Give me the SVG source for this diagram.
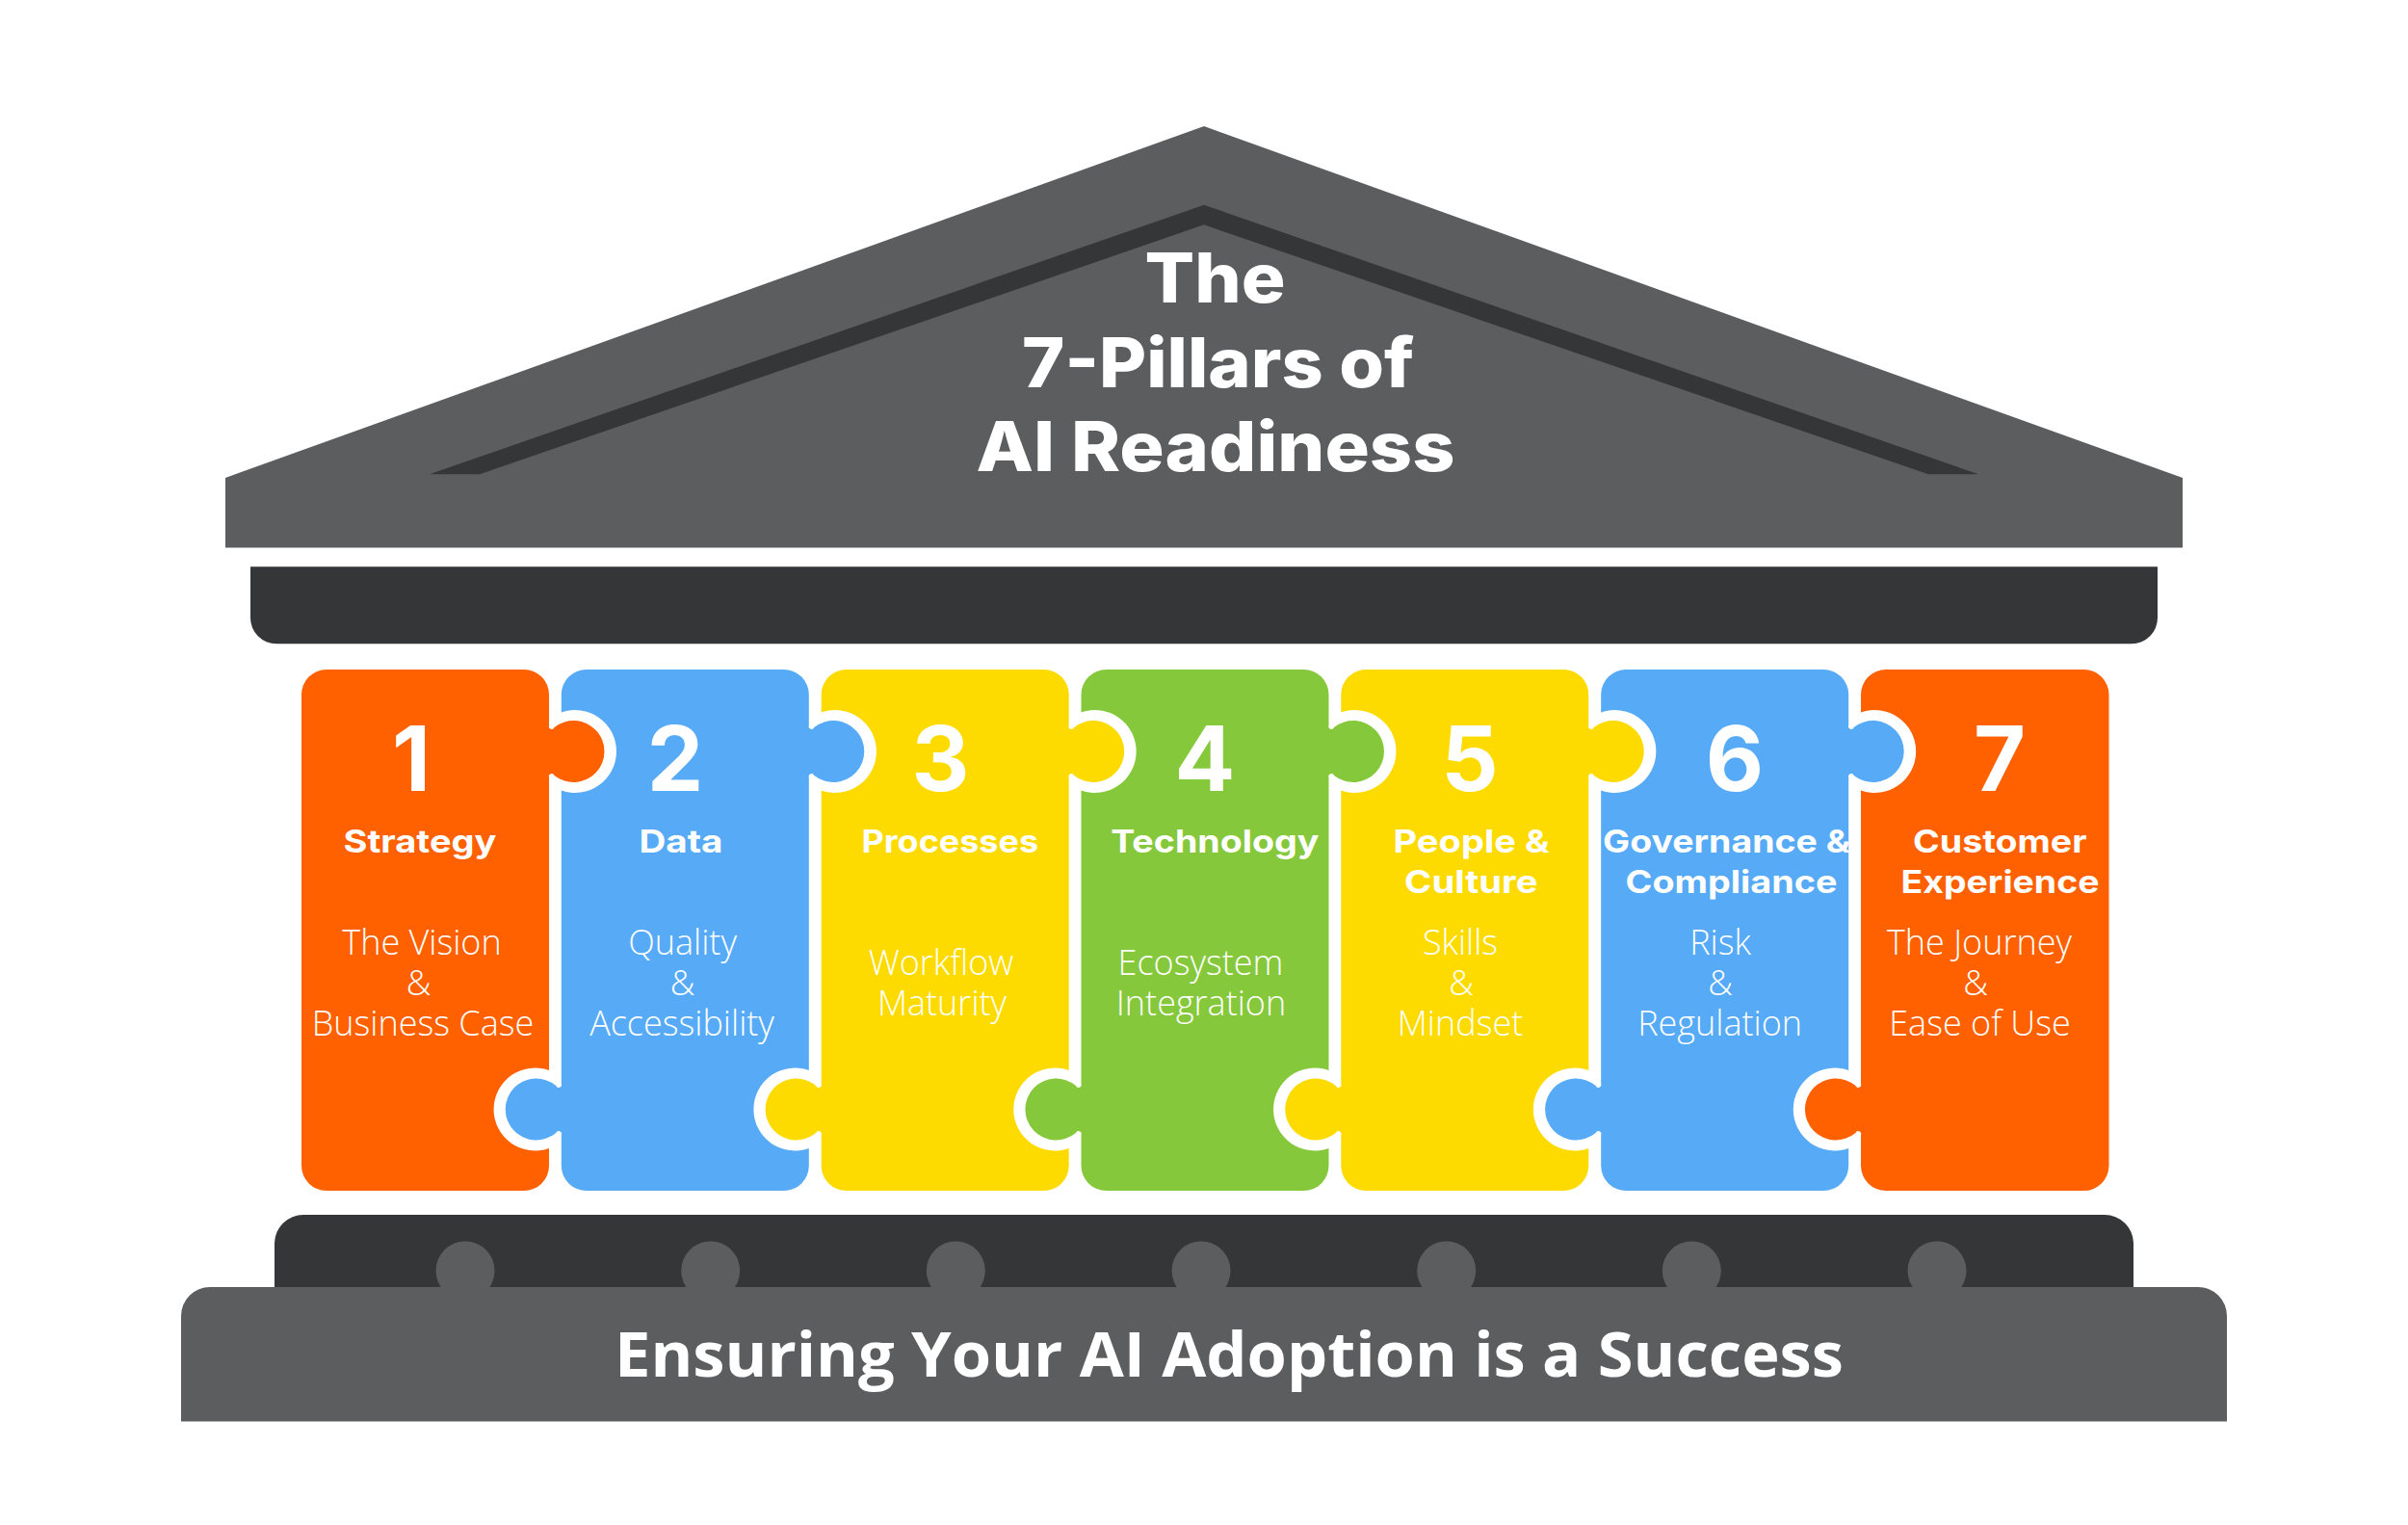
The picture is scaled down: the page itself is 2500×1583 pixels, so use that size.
<svg xmlns="http://www.w3.org/2000/svg" width="2500" height="1583" viewBox="0 0 2500 1583">
<style>
.dark{fill:#353638}.grey{fill:#5c5d5f}
.orange{fill:#ff6000}.blue{fill:#56aaf6}.yellow{fill:#fddb00}.green{fill:#86c83b}
text{fill:#fff}
.title{font:800 71px Inter,"Liberation Sans",sans-serif}
.base{font:700 64px "Open Sans","Liberation Sans",sans-serif}
.num{font:700 93px Inter,"Liberation Sans",sans-serif;text-anchor:middle}
.head{font:700 33px Inter,"Liberation Sans",sans-serif}
.body{font:300 36px "Open Sans","Liberation Sans",sans-serif;text-anchor:middle}
</style>
<defs>
<path id="piece-first" d="M26,695H231A26,26 0 0 1 257,721V753A2.8,2.8 0 0 0 262.5,755A32,32 0 1 1 262.5,805A2.8,2.8 0 0 0 257,807V1111A43,43 0 1 0 257,1192V1210A26,26 0 0 1 231,1236H26A26,26 0 0 1 0,1210V721A26,26 0 0 1 26,695Z"/>
<path id="piece-mid" d="M26,695H231A26,26 0 0 1 257,721V753A2.8,2.8 0 0 0 262.5,755A32,32 0 1 1 262.5,805A2.8,2.8 0 0 0 257,807V1111A43,43 0 1 0 257,1192V1210A26,26 0 0 1 231,1236H26A26,26 0 0 1 0,1210V1178A2.8,2.8 0 0 0 -5.5,1176A32,32 0 1 1 -5.5,1127A2.8,2.8 0 0 0 0,1125V820.6A43,43 0 1 0 0,739.4V721A26,26 0 0 1 26,695Z"/>
<path id="piece-last" d="M26,695H231A26,26 0 0 1 257.5,721V1210A26,26 0 0 1 231,1236H26A26,26 0 0 1 0,1210V1178A2.8,2.8 0 0 0 -5.5,1176A32,32 0 1 1 -5.5,1127A2.8,2.8 0 0 0 0,1125V820.6A43,43 0 1 0 0,739.4V721A26,26 0 0 1 26,695Z"/>
</defs>
<rect width="2500" height="1583" fill="#fff"/>
<g id="roof">
<polygon class="grey" points="234,568.5 234,496 1250,131 2266,496 2266,568.5"/>
<polygon class="dark" points="446,492.3 1250,212.7 2054,492.3 2002,492.3 1250,233.3 498,492.3"/>
<text class="title" x="1188.5" y="313.5" textLength="146" lengthAdjust="spacingAndGlyphs">The</text>
<text class="title" x="1061" y="401.7" textLength="407" lengthAdjust="spacingAndGlyphs">7-Pillars of</text>
<text class="title" x="1013.5" y="489" textLength="497" lengthAdjust="spacingAndGlyphs">AI Readiness</text>
</g>
<g id="entablature"><path class="dark" d="M260,588.3H2240V641A27,27 0 0 1 2213,668.3H287A27,27 0 0 1 260,641Z"/></g>
<g id="pillar-1">
<use href="#piece-first" x="313" class="orange"/>
<text class="num" x="427" y="821">1</text>
<text class="head" x="356.5" y="885" textLength="159" lengthAdjust="spacingAndGlyphs">Strategy</text>
<text class="body" x="438" y="990.7">The Vision</text><text class="body" x="434.5" y="1032.7">&amp;</text><text class="body" x="439" y="1074.7">Business Case</text>
</g>
<g id="pillar-2">
<use href="#piece-mid" x="582.8" class="blue"/>
<text class="num" x="701" y="821">2</text>
<text class="head" x="663.5" y="885" textLength="87" lengthAdjust="spacingAndGlyphs">Data</text>
<text class="body" x="708.6" y="990.7">Quality</text><text class="body" x="708.6" y="1032.7">&amp;</text><text class="body" x="708" y="1074.7">Accessibility</text>
</g>
<g id="pillar-3">
<use href="#piece-mid" x="852.7" class="yellow"/>
<text class="num" x="976.5" y="821">3</text>
<text class="head" x="894.5" y="885" textLength="183.6" lengthAdjust="spacingAndGlyphs">Processes</text>
<text class="body" x="977" y="1011.7">Workflow</text><text class="body" x="978" y="1053.7">Maturity</text>
</g>
<g id="pillar-4">
<use href="#piece-mid" x="1122.5" class="green"/>
<text class="num" x="1251" y="821">4</text>
<text class="head" x="1153.2" y="885" textLength="216.3" lengthAdjust="spacingAndGlyphs">Technology</text>
<text class="body" x="1246.5" y="1011.7">Ecosystem</text><text class="body" x="1247" y="1053.7">Integration</text>
</g>
<g id="pillar-5">
<use href="#piece-mid" x="1392.3" class="yellow"/>
<text class="num" x="1526" y="821">5</text>
<text class="head" x="1446.5" y="885" textLength="162" lengthAdjust="spacingAndGlyphs">People &amp;</text>
<text class="head" x="1458.1" y="927" textLength="138.4" lengthAdjust="spacingAndGlyphs">Culture</text>
<text class="body" x="1516" y="990.7">Skills</text><text class="body" x="1517" y="1032.7">&amp;</text><text class="body" x="1516" y="1074.7">Mindset</text>
</g>
<g id="pillar-6">
<use href="#piece-mid" x="1662.2" class="blue"/>
<text class="num" x="1801" y="821">6</text>
<text class="head" x="1664" y="885" textLength="257" lengthAdjust="spacingAndGlyphs">Governance &amp;</text>
<text class="head" x="1687.5" y="927" textLength="220" lengthAdjust="spacingAndGlyphs">Compliance</text>
<text class="body" x="1786" y="990.7">Risk</text><text class="body" x="1786" y="1032.7">&amp;</text><text class="body" x="1785.6" y="1074.7">Regulation</text>
</g>
<g id="pillar-7">
<use href="#piece-last" x="1932" class="orange"/>
<text class="num" x="2076" y="821">7</text>
<text class="head" x="1986" y="885" textLength="180.5" lengthAdjust="spacingAndGlyphs">Customer</text>
<text class="head" x="1973.5" y="927" textLength="206" lengthAdjust="spacingAndGlyphs">Experience</text>
<text class="body" x="2055" y="990.7">The Journey</text><text class="body" x="2051" y="1032.7">&amp;</text><text class="body" x="2055.5" y="1074.7">Ease of Use</text>
</g>
<g id="plinth">
<path class="dark" d="M285,1345V1290A30,30 0 0 1 315,1261H2185A30,30 0 0 1 2215,1290V1345Z"/>
<circle class="grey" cx="483" cy="1319" r="30.5"/><circle class="grey" cx="737.7" cy="1319" r="30.5"/><circle class="grey" cx="992.3" cy="1319" r="30.5"/><circle class="grey" cx="1247" cy="1319" r="30.5"/><circle class="grey" cx="1501.7" cy="1319" r="30.5"/><circle class="grey" cx="1756.3" cy="1319" r="30.5"/><circle class="grey" cx="2011" cy="1319" r="30.5"/>
</g>
<g id="base">
<path class="grey" d="M188,1475.5V1366A30,30 0 0 1 218,1336H2282A30,30 0 0 1 2312,1366V1475.5Z"/>
<text class="base" x="638" y="1429" textLength="1276" lengthAdjust="spacingAndGlyphs">Ensuring Your AI Adoption is a Success</text>
</g>
</svg>
